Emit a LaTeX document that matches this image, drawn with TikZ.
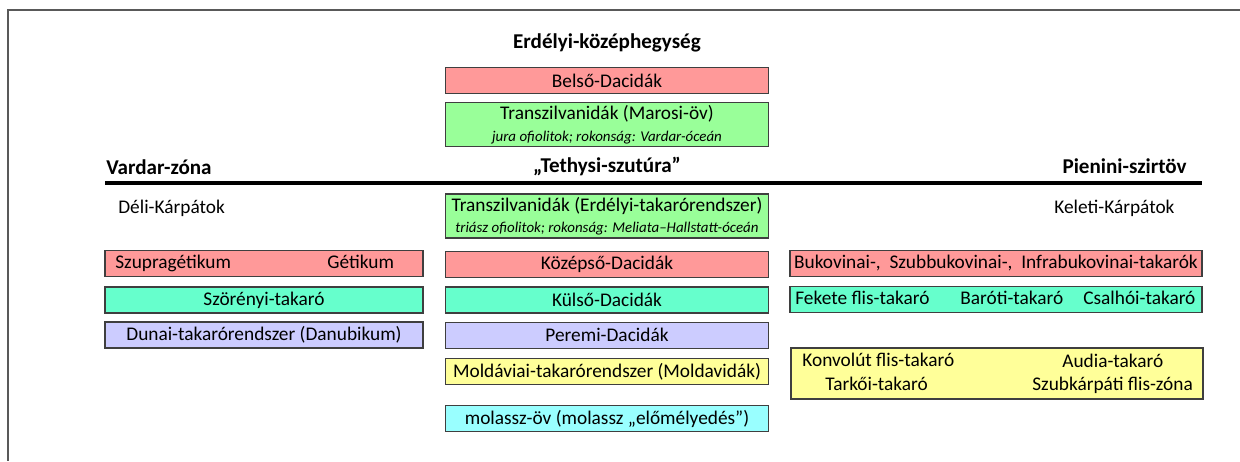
\documentclass[tikz,border=0pt]{standalone}
\usepackage{fontspec}
\setmainfont{Carlito}
\usetikzlibrary{positioning}
\definecolor{keret}{HTML}{3F3F3F}
\definecolor{lap}{HTML}{595959}
\definecolor{voros}{HTML}{FF9999}
\definecolor{zold}{HTML}{99FF99}
\definecolor{turkiz}{HTML}{66FFCC}
\definecolor{lila}{HTML}{CCCCFF}
\definecolor{sarga}{HTML}{FFFF99}
\definecolor{cian}{HTML}{99FFFF}
\newcommand{\kissor}{\fontsize{8.5}{10}\selectfont\itshape}

\begin{document}
\begin{tikzpicture}[
    x=0.02cm, y=-0.02cm,
    every node/.style={font=\fontsize{11}{13}\selectfont, inner sep=0pt},
    fej/.style={font=\fontsize{12}{14}\selectfont\bfseries},
    egys/.style={rectangle, draw=keret, line width=0.7pt,
                 minimum height=0.52cm, align=center},
    kozep/.style={egys, minimum width=6.46cm},
    bal/.style={egys, minimum width=6.36cm},
    jobb/.style={egys, minimum width=8.24cm},
    ket/.style={minimum height=0.88cm},
    belso/.style={anchor=west, text height=1.6ex, text depth=0.45ex}
]
    \useasboundingbox (0,0) rectangle (1240,461);
    % keret
    \draw[lap, line width=1.1pt] (1240,10) -- (8,10) -- (8,461);

    % fejlecek
    \node[fej] (erdely) at (607,43) {Erdélyi-középhegység};
    \node[fej, anchor=west] (vardar) at (106,167) {Vardar-zóna};
    \node[fej] (sutura) at (607,166) {„Tethysi-szutúra”};
    \node[fej, anchor=east] (pienin) at (1187,166) {Pienini-szirtöv};
    \coordinate (vb) at (105,183);
    \coordinate (vj) at (1202,183);
    \draw[line width=1.8pt] (vb) -- (vj);
    \node[belso] (deli) at (118,209) {Déli-Kárpátok};
    \node[belso] (keleti) at (1054,209) {Keleti-Kárpátok};

    % kozepso oszlop
    \node[kozep, fill=voros] (belsod) at (607,80.5) {Belső-Dacidák};
    \node[kozep, ket, fill=zold, below=0.16cm of belsod] (marosi)
        {Transzilvanidák (Marosi-öv)\\[-1pt]
         {\kissor jura ofiolitok; rokonság: Vardar-óceán}};
    \node[kozep, ket, fill=zold] (takrend) at (607,216)
        {Transzilvanidák (Erdélyi-takarórendszer)\\[-1pt]
         {\kissor triász ofiolitok; rokonság: Meliata–Hallstatt-óceán}};
    \node[kozep, fill=voros, below=0.24cm of takrend] (kozepd) {Középső-Dacidák};
    \node[kozep, fill=turkiz, below=0.17cm of kozepd] (kulsod) {Külső-Dacidák};
    \node[kozep, fill=lila, below=0.16cm of kulsod] (peremd) {Peremi-Dacidák};
    \node[kozep, fill=sarga, below=0.18cm of peremd] (moldav)
        {Moldáviai-takarórendszer (Moldavidák)};
    \node[kozep, fill=cian, below=0.4cm of moldav] (molassz)
        {molassz-öv (molassz „előmélyedés”)};

    % bal oszlop
    \node[bal, fill=voros] (getik) at (264,263.5) {};
    \node[belso] (szupra) at (115,264) {Szupragétikum};
    \node[belso] (getikum) at (327,264) {Gétikum};
    \node[bal, fill=turkiz] (szoreny) at (264,300) {Szörényi-takaró};
    \node[bal, fill=lila] (dunai) at (264,335) {Dunai-takarórendszer (Danubikum)};

    % jobb oszlop
    \node[jobb, fill=voros] (bukov) at (996,263.5)
        {Bukovinai-,\ \ Szubbukovinai-,\ \ Infrabukovinai-takarók};
    \node[jobb, fill=turkiz] (flis) at (996,299.5) {};
    \node[belso] (fekete) at (795,300) {Fekete flis-takaró};
    \node[belso] (baroti) at (960,300) {Baróti-takaró};
    \node[belso] (csalhoi) at (1083,300) {Csalhói-takaró};
    \node[jobb, fill=sarga, minimum height=1.02cm] (kulsoflis) at (997,373.5) {};
    \node[belso] (konvolut) at (802,362) {Konvolút flis-takaró};
    \node[belso] (tarkoi) at (825,386) {Tarkői-takaró};
    \node[belso] (audia) at (1062,363) {Audia-takaró};
    \node[belso] (szubkarp) at (1032,386) {Szubkárpáti flis-zóna};
\end{tikzpicture}
\end{document}
